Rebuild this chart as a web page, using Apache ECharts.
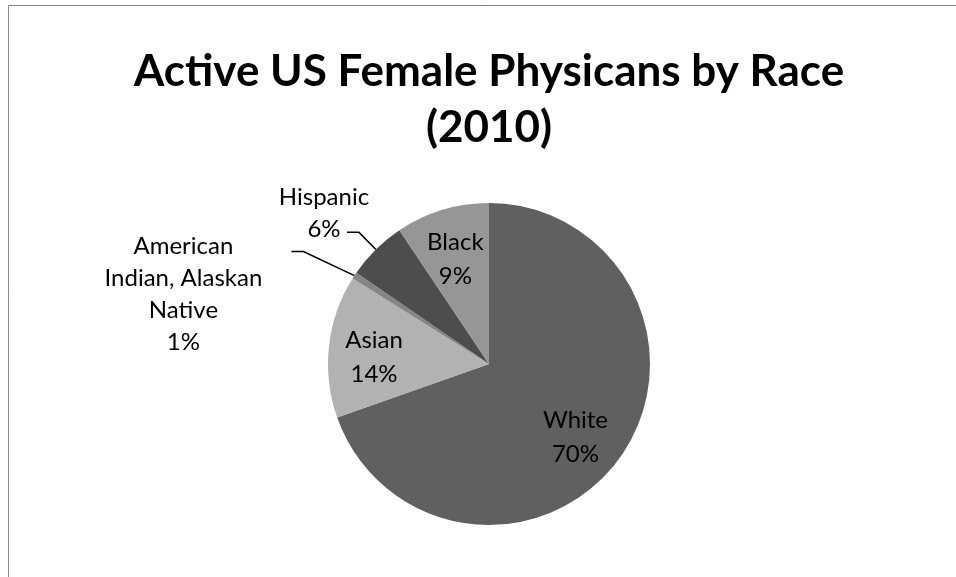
<!DOCTYPE html>
<html>
<head>
<meta charset="utf-8">
<script src="https://cdn.jsdelivr.net/npm/echarts@6/dist/echarts.min.js"></script>
<style>
  html, body { margin: 0; padding: 0; background: #ffffff; }
  #chart { width: 956px; height: 577px; }
</style>
</head>
<body>
<div id="chart"></div>
<script>
// Slices, clockwise from 12 o'clock
const categories = ['White', 'Asian', 'American Indian, Alaskan Native', 'Hispanic', 'Black'];
const labelNames = ['White', 'Asian', 'American\nIndian, Alaskan\nNative', 'Hispanic', 'Black'];
const shares = [69.6, 14.3, 0.7, 6.0, 9.4];

const titleText = 'Active US Female Physicans by Race\n(2010)';

const FONT = 'Lato, "Open Sans", sans-serif';
const PIE_CENTER = [489, 364];
const PIE_RADIUS = 161;
// Small slices get their label outside the pie with a leader line
const OUTSIDE_LIMIT = 8;

const chart = echarts.init(document.getElementById('chart'), null, { renderer: 'canvas' });

function labelText(p) {
  return labelNames[p.dataIndex] + '\n' + Math.round(p.percent) + '%';
}

const labelFont = {
  color: '#000000',
  fontFamily: FONT,
  fontSize: 24,
  lineHeight: 33,
  align: 'center'
};

const pieData = categories.map((name, i) => {
  const outside = shares[i] < OUTSIDE_LIMIT;
  return {
    name: name,
    value: shares[i],
    label: { show: outside },
    labelLine: { show: outside }
  };
});

const insideLabelData = categories.map((name, i) => ({
  name: name,
  value: shares[i],
  label: { show: shares[i] >= OUTSIDE_LIMIT }
}));

chart.setOption({
  animation: false,
  color: ['#606060', '#b2b2b2', '#858585', '#4d4d4d', '#969696'],
  title: {
    text: titleText,
    left: 489,
    textAlign: 'center',
    top: 44,
    padding: 0,
    textStyle: {
      fontFamily: FONT,
      fontWeight: 'bold',
      fontSize: 44,
      lineHeight: 56,
      color: '#000000',
      align: 'center'
    }
  },
  graphic: [{
    type: 'rect',
    silent: true,
    shape: { x: 8.5, y: 5.5, width: 1200, height: 1200 },
    style: { fill: 'none', stroke: '#868686', lineWidth: 1 }
  }],
  series: [
    {
      // visible pie with leader-line labels for the small slices
      type: 'pie',
      center: PIE_CENTER,
      radius: PIE_RADIUS,
      startAngle: 90,
      clockwise: true,
      avoidLabelOverlap: false,
      emphasis: { disabled: true },
      itemStyle: { borderWidth: 0 },
      label: Object.assign({ position: 'outside', formatter: labelText }, labelFont, { lineHeight: 32 }),
      labelLine: {
        length: 24,
        length2: 12,
        smooth: false,
        lineStyle: { color: '#000000', width: 1.5 }
      },
      labelLayout: function (p) {
        const pts = p.labelLinePoints;
        if (!pts) return {};
        const edge = pts[0];
        if (p.dataIndex === 2) {
          const bend = [edge[0] - 51, edge[1] - 24];
          const end = [bend[0] - 12, bend[1]];
          return {
            x: end[0] - 108, y: end[1] - 21,
            align: 'center', verticalAlign: 'top',
            labelLinePoints: [edge, bend, end]
          };
        }
        const end = pts[2];
        return {
          x: end[0] - 23, y: end[1] + 13,
          align: 'center', verticalAlign: 'bottom',
          labelLinePoints: pts
        };
      },
      data: pieData
    },
    {
      // transparent twin of the pie, carrying the in-slice labels further out
      type: 'pie',
      center: PIE_CENTER,
      radius: PIE_RADIUS * 1.4,
      startAngle: 90,
      clockwise: true,
      silent: true,
      emphasis: { disabled: true },
      itemStyle: { color: 'rgba(0,0,0,0)', borderWidth: 0 },
      label: Object.assign({ position: 'inside', formatter: labelText }, labelFont, { lineHeight: 34 }),
      labelLine: { show: false },
      labelLayout: function (p) {
        // the big slice's label sits a little closer to the middle
        return { dx: p.dataIndex === 0 ? -8 : 0, dy: 6 };
      },
      data: insideLabelData
    }
  ]
});
</script>
</body>
</html>
